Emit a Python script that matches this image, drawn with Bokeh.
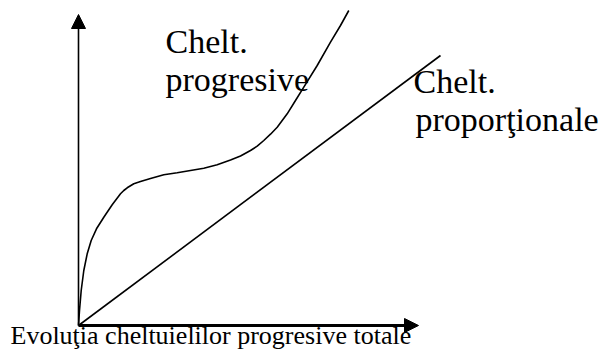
from bokeh.plotting import figure
from bokeh.models import Arrow, NormalHead, Range1d
from bokeh.core.properties import value
from bokeh.embed import file_html
from bokeh.resources import INLINE

# Progressive expenses curve (arbitrary units, origin at the axes crossing)
prog_x = [0, 1, 2.7, 5.3, 8.7, 12.7, 18, 25.3, 33.7, 42, 45.3, 48.7, 55.3, 62, 72, 85.3,
          98.7, 112, 125.3, 138.7, 152, 162, 172, 178.7, 185.3, 192, 198.7, 208.7, 217,
          225.3, 238.7, 252, 262, 270.3]
prog_y = [0, 15, 35, 55, 71.7, 85, 96.7, 108.3, 120.7, 131.7, 135, 137.7, 141.7, 144, 147,
          150.7, 152.7, 155, 157.3, 160.7, 165.5, 169.5, 175, 179.3, 185, 191.3, 198.3,
          211.7, 225, 238.3, 260, 283.3, 300, 315]

# Proportional expenses line
prop_x = [0, 362]
prop_y = [0, 270]

# Axes extents
axis_x_max = 340
axis_y_max = 311

# Labels
label_texts = ["Chelt.", "progresive", "Chelt.", "proporţionale"]
label_x = [87, 87, 335, 337]
label_y = [284, 246, 244, 206]

title_text = ["Evoluţia cheltuielilor progresive totale"]
title_x = [-68]
title_y = [-10]

p = figure(width=605, height=349, output_backend="svg", toolbar_location=None,
           x_range=Range1d(-78, 527), y_range=Range1d(-24, 325),
           min_border=0, min_border_left=0, min_border_right=0,
           min_border_top=0, min_border_bottom=0)
p.xaxis.visible = False
p.yaxis.visible = False
p.grid.visible = False
p.outline_line_color = None
p.background_fill_color = "white"
p.border_fill_color = "white"

p.line(prog_x, prog_y, line_color="black", line_width=1.6, line_join="round")
p.line(prop_x, prop_y, line_color="black", line_width=1.6)

p.add_layout(Arrow(end=NormalHead(size=14, fill_color="black", line_color="black", line_width=1),
                   x_start=0, y_start=0, x_end=0, y_end=axis_y_max,
                   line_color="black", line_width=1.6))
p.add_layout(Arrow(end=NormalHead(size=14, fill_color="black", line_color="black", line_width=1),
                   x_start=0, y_start=0, x_end=axis_x_max, y_end=0,
                   line_color="black", line_width=2.8))

p.text(label_x, label_y, text=label_texts, text_font=value("Liberation Serif"),
       text_font_size="34px", text_color="black", text_baseline="alphabetic", text_align="left")
p.text(title_x, title_y, text=title_text, text_font=value("Liberation Serif"),
       text_font_size="26px", text_color="black", text_baseline="alphabetic", text_align="left")

open("out.html", "w").write(file_html(p, INLINE))
